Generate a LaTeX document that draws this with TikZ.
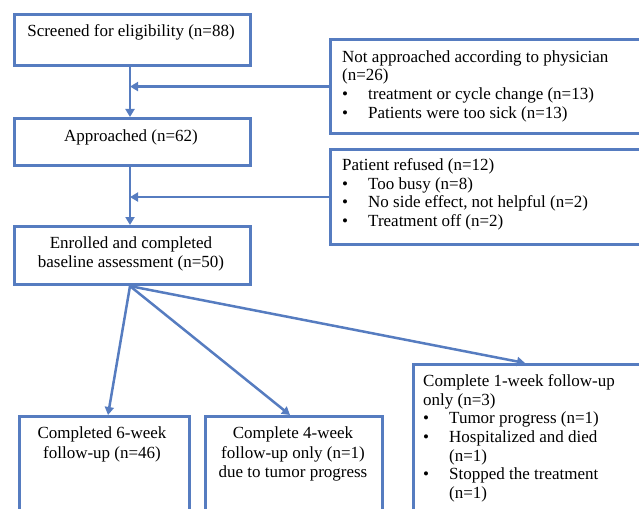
\documentclass[tikz,border=0pt]{standalone}
\usepackage{fontspec}
\setmainfont{Liberation Serif}
\usetikzlibrary{arrows.meta}
\definecolor{flowblue}{RGB}{86,124,192}
\newcommand{\bul}{\makebox[26pt][l]{\textbullet}}
\newcommand{\bulsp}{\hspace*{26pt}}
\begin{document}
\begin{tikzpicture}[x=1pt,y=-1pt,
  box/.style={draw=flowblue,line width=3.1pt,fill=white,rectangle,inner sep=0pt,anchor=north west},
  conn/.style={draw=flowblue,line width=2.5pt,-{Triangle[width=9pt,length=8pt]}},
  ctxt/.style={font=\fontsize{17}{19.8}\selectfont,inner sep=0pt,align=center,anchor=north},
  ltxt/.style={font=\fontsize{17}{18.7}\selectfont,inner sep=0pt,align=left,anchor=north west}]
\useasboundingbox (0,0) rectangle (639,508);
\clip (0,0) rectangle (639,508);
% boxes
\node[box,minimum width=236pt,minimum height=51pt] (b1) at (13,13) {};
\node[box,minimum width=236pt,minimum height=47pt] (b2) at (13,117) {};
\node[box,minimum width=236pt,minimum height=58pt] (b3) at (13,225) {};
\node[box,minimum width=330pt,minimum height=94pt] (rA) at (329,38) {};
\node[box,minimum width=330pt,minimum height=95pt] (rB) at (329,148) {};
\node[box,minimum width=170pt,minimum height=120pt] (c1) at (18,415) {};
\node[box,minimum width=177pt,minimum height=120pt] (c2) at (204,415) {};
\node[box,minimum width=250pt,minimum height=170pt] (c3) at (412,363) {};
% texts
\node[ctxt] (t1) at (131,24.2) {Screened for eligibility (n=88)};
\node[ctxt] (t2) at (131,129.2) {Approached (n=62)};
\node[ctxt] (t3) at (131,236.2) {Enrolled and completed\\baseline assessment (n=50)};
\node[ltxt] (tA) at (342,50.2) {Not approached according to physician\\(n=26)\\\bul treatment or cycle change (n=13)\\\bul Patients were too sick (n=13)};
\node[ltxt] (tB) at (342,158.2) {Patient refused (n=12)\\\bul Too busy (n=8)\\\bul No side effect, not helpful (n=2)\\\bul Treatment off (n=2)};
\node[ctxt] (tc1) at (102,426.2) {Completed 6-week\\follow-up (n=46)};
\node[ctxt] (tc2) at (293,426.2) {Complete 4-week\\follow-up only (n=1)\\due to tumor progress};
\node[ltxt] (tc3) at (423,374.2) {Complete 1-week follow-up\\only (n=3)\\\bul Tumor progress (n=1)\\\bul Hospitalized and died\\\bulsp (n=1)\\\bul Stopped the treatment\\\bulsp (n=1)};
% connector end points
\coordinate (e1) at (108,415);
\coordinate (e2) at (290,415);
\coordinate (e3) at (525,363);
% connectors
\draw[conn] (b1.south -| 130,0) -- (b2.north -| 130,0);
\draw[conn] (b2.south -| 130,0) -- (b3.north -| 130,0);
\draw[conn] (rA.west) -- (rA.west -| 130,0);
\draw[conn] (rB.west) -- (rB.west -| 130,0);
\draw[conn] (b3.south -| 130,0) -- (e1);
\draw[conn] (b3.south -| 130,0) -- (e2);
\draw[conn] (b3.south -| 130,0) -- (e3);
\end{tikzpicture}
\end{document}
